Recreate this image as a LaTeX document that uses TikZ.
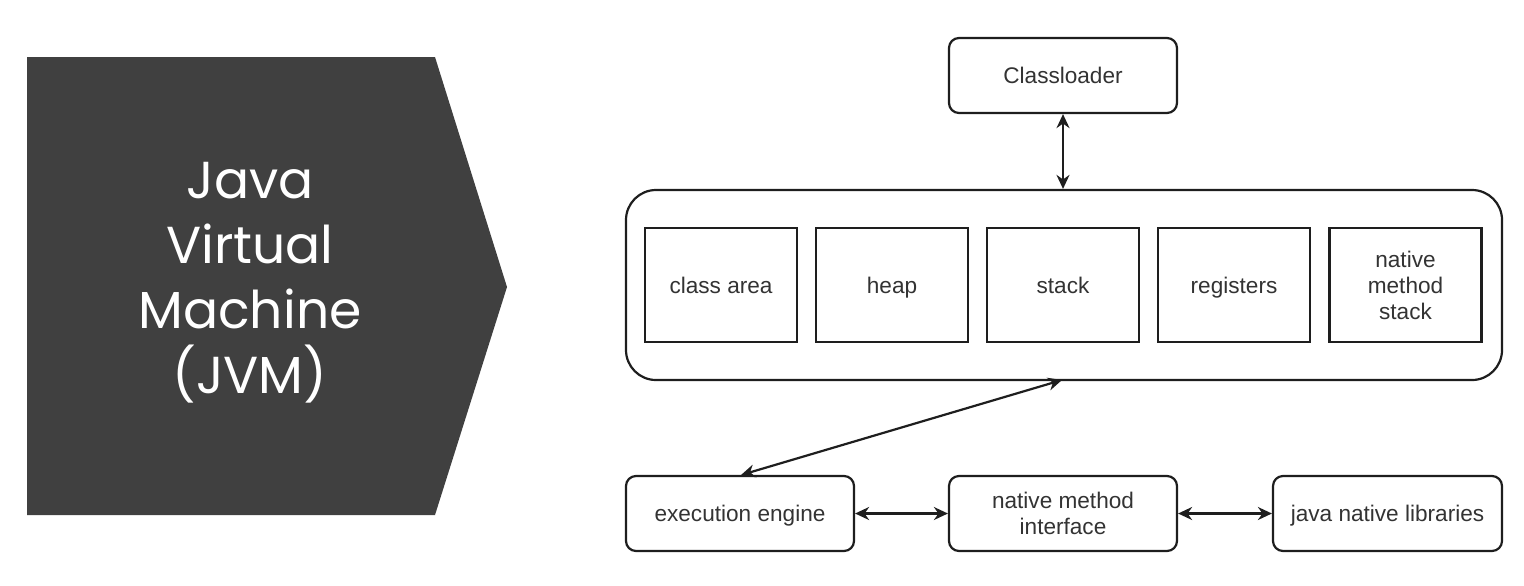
\documentclass[tikz,border=0pt]{standalone}
\usepackage{fontspec}
\setmainfont{Liberation Sans}
\newfontfamily\titlefont{Poppins}
\usetikzlibrary{arrows.meta}
\definecolor{darkbox}{HTML}{404040}
\definecolor{linecol}{HTML}{1E1E1E}
\definecolor{txtcol}{HTML}{333333}
\tikzset{
  rbox/.style={draw=linecol, line width=1.1pt, rounded corners=5pt, fill=white,
    text=txtcol, font=\fontsize{11.3}{13}\selectfont, align=center, inner sep=0pt},
  sbox/.style={draw=linecol, line width=1.1pt, fill=white,
    text=txtcol, font=\fontsize{11.3}{13}\selectfont, align=center, inner sep=0pt,
    minimum width=76pt, minimum height=57pt},
  singleline/.style={text height=8.2pt, text depth=0pt},
  conn/.style={draw=linecol, line width=1.1pt, {Stealth[length=7pt,width=6.5pt]}-{Stealth[length=7pt,width=6.5pt]}}
}
\begin{document}
\begin{tikzpicture}[x=0.5pt,y=-0.5pt]
\useasboundingbox (0,0) rectangle (1524,585);
% left arrow shape
\fill[darkbox] (27,57) -- (435,57) -- (507,287) -- (435,515) -- (27,515) -- cycle;
\node[text=white, align=center, font=\titlefont\fontsize{26}{32.5}\selectfont] (title) at (250,283) {Java\\Virtual\\Machine\\(JVM)};
% classloader
\node[rbox, singleline, minimum width=114pt, minimum height=37.5pt] (cl) at (1063,75.5) {Classloader};
% big memory box
\node[draw=linecol, line width=1.1pt, rounded corners=15pt, minimum width=438pt, minimum height=95pt, inner sep=0pt] (mem) at (1064,285) {};
\node[sbox, singleline] (ca) at (721,285) {class area};
\node[sbox, singleline] (hp) at (892,285) {heap};
\node[sbox, singleline] (st) at (1063,285) {stack};
\node[sbox, singleline] (rg) at (1234,285) {registers};
\node[sbox] (nms) at (1405.5,285) {native\\method\\stack};
% bottom row
\node[rbox, singleline, minimum width=114pt, minimum height=37.5pt] (ee) at (740,513.5) {execution engine};
\node[rbox, minimum width=114pt, minimum height=37.5pt] (nmi) at (1063,513.5) {native method\\interface};
\node[rbox, singleline, minimum width=114.5pt, minimum height=37.5pt] (jnl) at (1387.5,513.5) {java native libraries};
% connectors
\draw[conn] (cl.south) -- (cl.south |- mem.north);
\coordinate (memb) at (1062,380);
\coordinate (eet) at (741,475);
\draw[conn] (memb) -- (eet);
\draw[conn] (ee.east) -- (nmi.west);
\draw[conn] (nmi.east) -- (jnl.west);
\end{tikzpicture}
\end{document}
